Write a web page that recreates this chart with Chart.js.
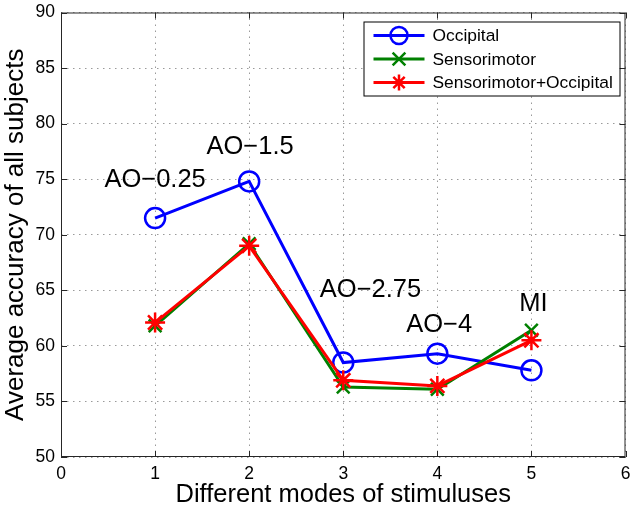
<!DOCTYPE html>
<html><head><meta charset="utf-8">
<script src="https://cdn.jsdelivr.net/npm/chart.js@4/dist/chart.umd.min.js"></script>
<style>html,body{margin:0;padding:0;background:#fff;}#wrap{width:638px;height:510px;}</style>
</head><body><div id="wrap"><canvas id="c" width="638" height="510"></canvas></div>
<script>
// ---- data ----
const modes = [1, 2, 3, 4, 5];
const occipital = [71.5, 74.8, 58.5, 59.3, 57.8];
const sensorimotor = [61.8, 69.2, 56.3, 56.1, 61.4];
const combined = [62.1, 69.0, 56.9, 56.4, 60.5];
const seriesNames = ['Occipital', 'Sensorimotor', 'Sensorimotor+Occipital'];
const modeLabels = ['AO\u22120.25', 'AO\u22121.5', 'AO\u22122.75', 'AO\u22124', 'MI'];
const labelX = [1.0, 2.01, 3.29, 4.02, 5.02];
const labelY = [74.95, 77.9, 65.0, 61.9, 63.8];
const xTitle = 'Different modes of stimuluses';
const yTitle = 'Average accuracy of all subjects';

const FONT = '"Liberation Sans", Arial, Helvetica, sans-serif';
const BLUE = '#0000ff', GREEN = '#008000', RED = '#ff0000';

function pts(vals) { return modes.map((m, i) => ({x: m, y: vals[i]})); }

function drawMarker(ctx, style, x, y, r, color, lw) {
  ctx.save();
  ctx.strokeStyle = color; ctx.lineWidth = lw;
  ctx.beginPath();
  if (style === 'circle') {
    ctx.arc(x, y, r, 0, Math.PI * 2);
  } else {
    const d = r * Math.SQRT1_2;
    ctx.moveTo(x - d, y - d); ctx.lineTo(x + d, y + d);
    ctx.moveTo(x - d, y + d); ctx.lineTo(x + d, y - d);
    if (style === 'star') {
      ctx.moveTo(x, y - r); ctx.lineTo(x, y + r);
      ctx.moveTo(x - r, y); ctx.lineTo(x + r, y);
    }
  }
  ctx.stroke();
  ctx.restore();
}

const framePlugin = {
  id: 'frame',
  afterDraw(chart) {
    const {ctx, chartArea: a, scales} = chart;
    ctx.save();
    ctx.strokeStyle = '#262626'; ctx.lineWidth = 1;
    ctx.strokeRect(a.left + 0.5, a.top + 0.5, a.right - a.left - 1, a.bottom - a.top - 1);
    const L = 6;
    ctx.beginPath();
    scales.x.ticks.forEach(t => {
      const px = Math.round(scales.x.getPixelForValue(t.value)) + 0.5;
      ctx.moveTo(px, a.bottom); ctx.lineTo(px, a.bottom - L);
      ctx.moveTo(px, a.top); ctx.lineTo(px, a.top + L);
    });
    scales.y.ticks.forEach(t => {
      const py = Math.round(scales.y.getPixelForValue(t.value)) + 0.5;
      ctx.moveTo(a.left, py); ctx.lineTo(a.left + L, py);
      ctx.moveTo(a.right, py); ctx.lineTo(a.right - L, py);
    });
    ctx.stroke();
    ctx.restore();
  }
};

const annotPlugin = {
  id: 'annot',
  afterDatasetsDraw(chart) {
    const {ctx, scales} = chart;
    ctx.save();
    ctx.font = '25.5px ' + FONT;
    ctx.fillStyle = '#000';
    ctx.textAlign = 'center'; ctx.textBaseline = 'middle';
    modeLabels.forEach((t, i) => {
      ctx.fillText(t, scales.x.getPixelForValue(labelX[i]), scales.y.getPixelForValue(labelY[i]));
    });
    ctx.restore();
  }
};

const legendPlugin = {
  id: 'mlegend',
  afterDraw(chart) {
    const {ctx, chartArea: a} = chart;
    const w = 256, h = 74;
    const x0 = a.right - 6 - w, y0 = a.top + 9;
    ctx.save();
    ctx.fillStyle = '#fff';
    ctx.fillRect(x0, y0, w, h);
    ctx.strokeStyle = '#000'; ctx.lineWidth = 1;
    ctx.strokeRect(x0 + 0.5, y0 + 0.5, w, h);
    const items = chart.data.datasets.slice();
    items.sort((p, q) => p.legendIndex - q.legendIndex);
    ctx.font = '17.4px ' + FONT;
    ctx.textBaseline = 'middle'; ctx.textAlign = 'left';
    items.forEach((ds, i) => {
      const y = y0 + 14 + i * 23.5;
      ctx.strokeStyle = ds.borderColor; ctx.lineWidth = 3;
      ctx.beginPath(); ctx.moveTo(x0 + 10, y); ctx.lineTo(x0 + 61, y); ctx.stroke();
      drawMarker(ctx, ds.pointStyle, x0 + 35.5, y, ds.legendRadius, ds.pointBorderColor, ds.pointBorderWidth);
      ctx.fillStyle = '#000';
      ctx.fillText(ds.label, x0 + 69, y + 1);
    });
    ctx.restore();
  }
};

new Chart(document.getElementById('c'), {
  type: 'scatter',
  data: {
    datasets: [
      {label: seriesNames[0], legendIndex: 0, order: 3, data: pts(occipital), showLine: true,
       borderColor: BLUE, borderWidth: 3, pointStyle: 'circle', pointRadius: 10, legendRadius: 8.5,
       pointBorderColor: BLUE, pointBackgroundColor: 'rgba(0,0,0,0)', pointBorderWidth: 2.5},
      {label: seriesNames[1], legendIndex: 1, order: 2, data: pts(sensorimotor), showLine: true,
       borderColor: GREEN, borderWidth: 3, pointStyle: 'crossRot', pointRadius: 9, legendRadius: 9,
       pointBorderColor: GREEN, pointBackgroundColor: GREEN, pointBorderWidth: 2.5},
      {label: seriesNames[2], legendIndex: 2, order: 1, data: pts(combined), showLine: true,
       borderColor: RED, borderWidth: 3, pointStyle: 'star', pointRadius: 10, legendRadius: 8,
       pointBorderColor: RED, pointBackgroundColor: RED, pointBorderWidth: 2.5}
    ]
  },
  options: {
    responsive: false,
    devicePixelRatio: 1,
    animation: false,
    layout: {padding: {top: 10, right: 11, left: 0, bottom: 0}},
    plugins: {legend: {display: false}, tooltip: {enabled: false}},
    elements: {line: {tension: 0}},
    scales: {
      x: {
        type: 'linear', min: 0, max: 6,
        ticks: {stepSize: 1, color: '#000', font: {family: FONT, size: 17.5}, padding: 7, maxRotation: 0},
        grid: {color: '#9a9a9a', lineWidth: 1, drawTicks: false},
        border: {display: false, dash: [1.5, 4.5]},
        title: {display: true, text: xTitle, color: '#000', font: {family: FONT, size: 25.5, lineHeight: 1.1}, padding: {top: 0, bottom: 1.5}},
        afterFit(s) { s.height = 53; s.paddingLeft = 0; s.paddingRight = 0; }
      },
      y: {
        type: 'linear', min: 50, max: 90,
        ticks: {stepSize: 5, color: '#000', font: {family: FONT, size: 17.5}, padding: 6},
        grid: {color: '#9a9a9a', lineWidth: 1, drawTicks: false},
        border: {display: false, dash: [1.5, 4.5]},
        title: {display: true, text: yTitle, color: '#000', font: {family: FONT, size: 26, lineHeight: 1.1}, padding: {top: 2, bottom: 0}},
        afterFit(s) { s.width = 61; s.paddingTop = 0; s.paddingBottom = 0; }
      }
    }
  },
  plugins: [framePlugin, annotPlugin, legendPlugin]
});
</script>
</body></html>
